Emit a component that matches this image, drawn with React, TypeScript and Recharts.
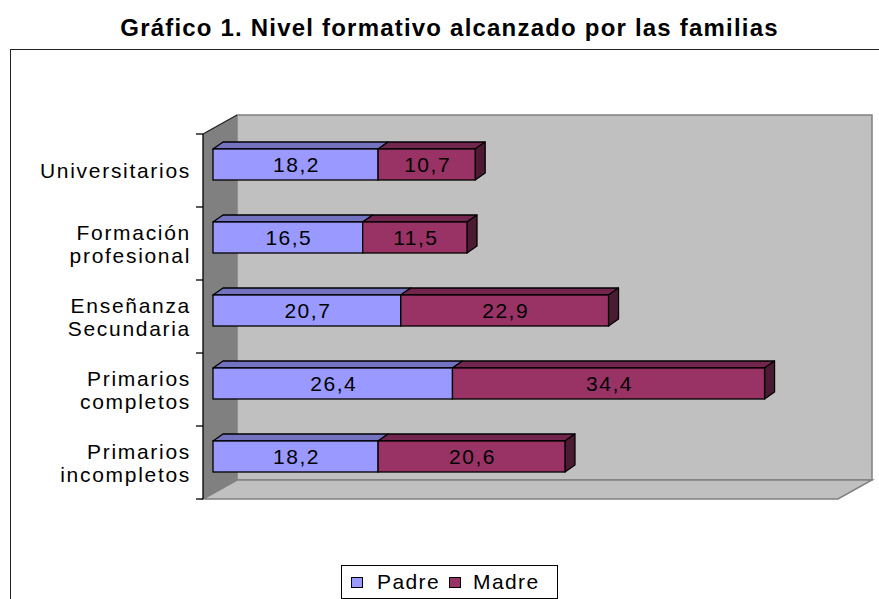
import React from 'react';
import { BarChart, Bar, XAxis, YAxis, ReferenceArea, LabelList, Legend } from 'recharts';

const categories = ['Universitarios', 'Formación\nprofesional', 'Enseñanza\nSecundaria', 'Primarios\ncompletos', 'Primarios\nincompletos'];
const padreValues = [18.2, 16.5, 20.7, 26.4, 18.2];
const madreValues = [10.7, 11.5, 22.9, 34.4, 20.6];
const seriesNames = ['Padre', 'Madre'];
const xTicks = [0, 10, 20, 30, 40, 50, 60, 70];
const titleText = 'Gráfico 1. Nivel formativo alcanzado por las familias';

const data = categories.map((c, i) => ({ name: c, Padre: padreValues[i], Madre: madreValues[i] }));

const FONT = '"Liberation Sans", Arial, sans-serif';
const COLORS = {
  Padre: { front: '#9999FF', top: '#7373C0', side: '#5C5C99' },
  Madre: { front: '#993366', top: '#73264D', side: '#4D1A33' },
};
const DX = 10;
const DY = -7;
const FRONT_DX = -10;
const FRONT_DY = 6;
const DEPTH_X = 34;
const DEPTH_Y = -19;

const makeShape = (key: 'Padre' | 'Madre', withSide: boolean) => (props: any) => {
  const { x, y, width, height } = props;
  const c = COLORS[key];
  const sw = 1.3;
  return (
    <g>
      <polygon
        points={`${x},${y} ${x + DX},${y + DY} ${x + width + DX},${y + DY} ${x + width},${y}`}
        fill={c.top}
        stroke="#000"
        strokeWidth={sw}
        strokeLinejoin="round"
      />
      {withSide && (
        <polygon
          points={`${x + width},${y} ${x + width + DX},${y + DY} ${x + width + DX},${y + height + DY} ${x + width},${y + height}`}
          fill={c.side}
          stroke="#000"
          strokeWidth={sw}
          strokeLinejoin="round"
        />
      )}
      <rect x={x} y={y} width={width} height={height} fill={c.front} stroke="#000" strokeWidth={sw} />
    </g>
  );
};

const WallShape = (props: any) => {
  const { x, y, width, height } = props;
  const fx0 = x + FRONT_DX;
  const fx1 = x + width + FRONT_DX;
  const fy0 = y + FRONT_DY;
  const fy1 = y + height + FRONT_DY;
  const bx0 = fx0 + DEPTH_X;
  const bx1 = fx1 + DEPTH_X;
  const by0 = fy0 + DEPTH_Y;
  const by1 = fy1 + DEPTH_Y;
  const n = categories.length;
  const ticks = Array.from({ length: n + 1 }, (_, i) => fy0 + (i * (fy1 - fy0)) / n);
  return (
    <g>
      <polygon points={`${bx0},${by0} ${bx1},${by0} ${bx1},${by1} ${bx0},${by1}`} fill="#C0C0C0" stroke="#808080" strokeWidth={1.5} />
      <polygon points={`${fx0},${fy1} ${bx0},${by1} ${bx1},${by1} ${fx1},${fy1}`} fill="#C0C0C0" stroke="#808080" strokeWidth={1.5} />
      <polygon points={`${fx0},${fy0} ${bx0},${by0} ${bx0},${by1} ${fx0},${fy1}`} fill="#808080" stroke="none" />
      <line x1={fx0} y1={fy0} x2={bx0} y2={by0} stroke="#202020" strokeWidth={1.3} />
      <line x1={fx0} y1={fy0} x2={fx0} y2={fy1} stroke="#000" strokeWidth={1.3} />
      {ticks.map((ty, i) => (
        <line key={i} x1={fx0 - 7} y1={ty} x2={fx0} y2={ty} stroke="#000" strokeWidth={1.3} />
      ))}
    </g>
  );
};

const CategoryTick = (props: any) => {
  const { y, payload } = props;
  const lines = String(payload.value).split('\n');
  const c = y + FRONT_DY;
  const tx = 191;
  const lh = 23;
  const start = c + 7.5 - ((lines.length - 1) * lh) / 2;
  return (
    <text textAnchor="end" fontFamily={FONT} fontSize={21} fill="#000" style={{ letterSpacing: '1.7px' }}>
      {lines.map((l, i) => (
        <tspan key={i} x={tx} y={start + i * lh}>
          {l}
        </tspan>
      ))}
    </text>
  );
};

const fmt = (v: any) => String(v).replace('.', ',');

const valueLabel = (p: any) => {
  const { x, y, width, height, value } = p;
  return (
    <text
      x={x + width / 2 + 1}
      y={y + height / 2 + 7}
      textAnchor="middle"
      fontFamily={FONT}
      fontSize={21}
      fill="#000"
      style={{ letterSpacing: '1.5px' }}
    >
      {fmt(value)}
    </text>
  );
};

const LegendContent = () => (
  <div
    style={{
      boxSizing: 'border-box',
      width: 217,
      height: 34,
      border: '1px solid #000',
      background: '#fff',
      display: 'flex',
      alignItems: 'center',
      fontFamily: FONT,
      fontSize: 21,
      letterSpacing: '1.4px',
      color: '#000',
    }}
  >
    {seriesNames.map((s, i) => (
      <div key={s} style={{ display: 'flex', alignItems: 'center', marginLeft: 9 }}>
        <div
          style={{
            boxSizing: 'border-box',
            width: 12,
            height: 11,
            border: '1px solid #000',
            background: COLORS[s as 'Padre' | 'Madre'].front,
            marginRight: i === 0 ? 14 : 12,
          }}
        />
        <span style={{ lineHeight: '32px' }}>{s}</span>
      </div>
    ))}
  </div>
);

export default function App() {
  return (
    <div style={{ position: 'absolute', left: 0, top: 0, width: 879, height: 599, overflow: 'hidden', background: '#fff' }}>
      <div
        style={{
          position: 'absolute',
          left: 10,
          top: 14,
          width: 879,
          textAlign: 'center',
          fontFamily: FONT,
          fontWeight: 'bold',
          fontSize: 24,
          lineHeight: '27px',
          letterSpacing: '1.2px',
          color: '#000',
        }}
      >
        {titleText}
      </div>
      <div
        style={{
          position: 'absolute',
          left: 10,
          top: 49,
          width: 900,
          height: 600,
          border: '1px solid #222',
          boxSizing: 'border-box',
        }}
      />
      <div style={{ position: 'absolute', left: 0, top: 0 }}>
        <BarChart
          width={879}
          height={599}
          data={data}
          layout="vertical"
          margin={{ top: 128, bottom: 106, left: 93, right: 31 }}
          barSize={31}
        >
          <XAxis type="number" domain={[0, 70]} ticks={xTicks} hide />
          <YAxis
            type="category"
            dataKey="name"
            width={120}
            axisLine={false}
            tickLine={false}
            tick={<CategoryTick />}
            interval={0}
          />
          <ReferenceArea x1={0} x2={70} shape={<WallShape />} ifOverflow="visible" zIndex={-200} />
          <Bar dataKey="Padre" stackId="a" fill={COLORS.Padre.front} shape={makeShape('Padre', false)} isAnimationActive={false}>
            <LabelList dataKey="Padre" content={valueLabel} />
          </Bar>
          <Bar dataKey="Madre" stackId="a" fill={COLORS.Madre.front} shape={makeShape('Madre', true)} isAnimationActive={false}>
            <LabelList dataKey="Madre" content={valueLabel} />
          </Bar>
          <Legend
            layout="horizontal"
            verticalAlign="middle"
            align="center"
            content={<LegendContent />}
            wrapperStyle={{ left: 341, top: 565, width: 217, height: 34 }}
          />
        </BarChart>
      </div>
    </div>
  );
}
